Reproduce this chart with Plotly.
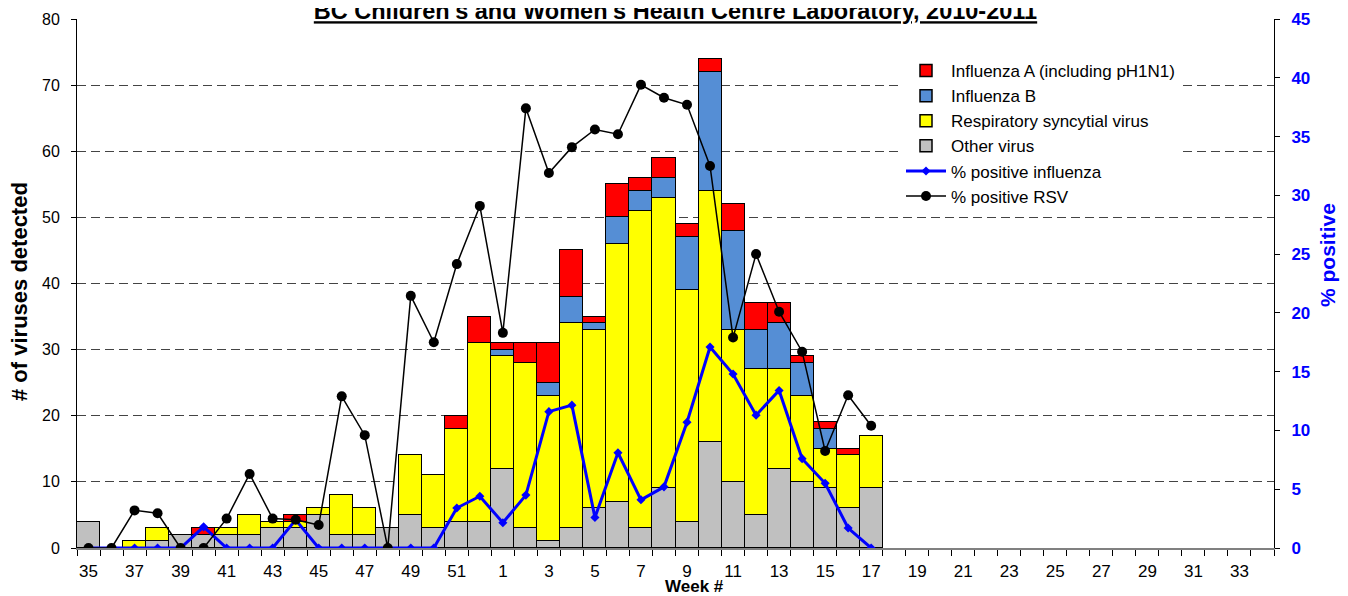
import plotly.graph_objects as go

weeks = [str(w) for w in list(range(35, 53)) + list(range(1, 35))]

other = [4, 0, 0, 1, 2, 2, 2, 2, 3, 3, 5, 2, 2, 3, 5, 3, 4, 4,
         12, 3, 1, 3, 6, 7, 3, 9, 4, 16, 10, 5, 12, 10, 9, 6, 9]
rsv = [0, 0, 1, 2, 0, 0, 1, 3, 1, 1, 1, 6, 4, 0, 9, 8, 14, 27,
       17, 25, 22, 31, 27, 39, 48, 44, 35, 38, 23, 22, 15, 13, 6, 8, 8]
flu_b = [0, 0, 0, 0, 0, 0, 0, 0, 0, 0, 0, 0, 0, 0, 0, 0, 0, 0,
         1, 0, 2, 4, 1, 4, 3, 3, 8, 18, 15, 6, 7, 5, 3, 0, 0]
flu_a = [0, 0, 0, 0, 0, 1, 0, 0, 0, 1, 0, 0, 0, 0, 0, 0, 2, 4,
         1, 3, 6, 7, 1, 5, 2, 3, 2, 2, 4, 4, 3, 1, 1, 1, 0]
pct_flu = [0, 0, 0, 0, 0, 1.8, 0, 0, 0, 2.4, 0, 0, 0, 0, 0, 0, 3.4, 4.4,
           2.15, 4.5, 11.6, 12.15, 2.6, 8.1, 4.1, 5.2, 10.7, 17.1, 14.8, 11.3, 13.4, 7.6, 5.5, 1.7, 0]
pct_rsv = [0, 0, 3.2, 2.95, 0, 0, 2.5, 6.3, 2.5, 2.4, 1.95, 12.9, 9.6, 0, 21.45, 17.5, 24.15, 29.1,
           18.3, 37.4, 31.9, 34.1, 35.6, 35.2, 39.4, 38.3, 37.7, 32.5, 17.9, 25.0, 20.1, 16.7, 8.25, 13.0, 10.4]

FONT = "Liberation Sans, Arial, sans-serif"
n_data = len(other)
xw = weeks[:n_data]

# page offset of the figure inside the html body (default 8px body margin)
OFF = 8
PL, PR, PT, PB = 77, 1274, 19, 548   # plot area in page pixels
W, H = 1348 - OFF, 596 - OFF


def px(page_x):
    return (page_x - PL) / (PR - PL)


def py(page_y):
    return (PB - page_y) / (PB - PT)


def nz(vals):
    return [v if v else None for v in vals]


fig = go.Figure()
bar_line = dict(color="black", width=1.5)
fig.add_trace(go.Bar(x=xw, y=nz(other), name="Other virus", legendrank=4,
                     marker=dict(color="#C0C0C0", line=bar_line)))
fig.add_trace(go.Bar(x=xw, y=nz(rsv), name="Respiratory syncytial virus", legendrank=3,
                     marker=dict(color="#FFFF00", line=bar_line)))
fig.add_trace(go.Bar(x=xw, y=nz(flu_b), name="Influenza B", legendrank=2,
                     marker=dict(color="#558ED5", line=bar_line)))
fig.add_trace(go.Bar(x=xw, y=nz(flu_a), name="Influenza A (including pH1N1)", legendrank=1,
                     marker=dict(color="#FF0000", line=bar_line)))
fig.add_trace(go.Scatter(x=xw, y=pct_flu, name="% positive influenza", yaxis="y2",
                         legendrank=5, mode="lines+markers",
                         line=dict(color="#0000FF", width=3),
                         marker=dict(symbol="diamond", size=7, color="#0000FF")))
fig.add_trace(go.Scatter(x=xw, y=pct_rsv, name="% positive RSV", yaxis="y2",
                         legendrank=6, mode="lines+markers",
                         line=dict(color="black", width=1.5),
                         marker=dict(symbol="circle", size=10, color="black")))

ticktext = [w if i % 2 == 0 else "" for i, w in enumerate(weeks)]

fig.update_layout(
    width=W, height=H,
    margin=dict(l=PL - OFF, r=1348 - PR, t=PT - OFF, b=596 - PB, autoexpand=False),
    paper_bgcolor="white", plot_bgcolor="white",
    barmode="stack", bargap=0,
    font=dict(family=FONT, size=14, color="black"),
    showlegend=True,
    legend=dict(x=px(901), y=py(53), xanchor="left", yanchor="top",
                bgcolor="white", font=dict(size=17, family=FONT),
                traceorder="normal", itemwidth=40, tracegroupgap=0),
    xaxis=dict(type="category", categoryorder="array", categoryarray=weeks,
               range=[-0.5, len(weeks) - 0.5],
               tickvals=weeks, ticktext=ticktext, tickson="boundaries",
               ticks="outside", ticklen=6, tickcolor="black", tickwidth=1,
               ticklabelstandoff=7,
               showline=True, linecolor="#808080", linewidth=2,
               showgrid=False, tickfont=dict(size=17, family=FONT, color="black"),
               tickangle=0, automargin=False),
    yaxis=dict(range=[0, 80], dtick=10, tick0=0, ticks="outside", ticklen=5,
               tickcolor="black", showline=True, linecolor="black", linewidth=1,
               ticklabelstandoff=8,
               showgrid=True, gridcolor="#444444", griddash="9px,5px", gridwidth=1,
               zeroline=False, automargin=False,
               tickfont=dict(size=16, family=FONT, color="black")),
    yaxis2=dict(range=[0, 45], dtick=5, tick0=0, overlaying="y", side="right",
                ticks="outside", ticklen=5, tickcolor="black", showline=True,
                linecolor="black", linewidth=1, showgrid=False, zeroline=False,
                ticklabelstandoff=8, automargin=False,
                tickfont=dict(size=17, family=FONT, color="#0000FF", weight="bold")),
    title=dict(text="BC Children's and Women's Health Centre Laboratory, 2010-2011",
               x=0.5, xanchor="center", xref="paper",
               y=1 - 3 / H, yanchor="middle", yref="container",
               font=dict(size=23.5, family=FONT, color="black", weight="bold",
                         lineposition="under")),
    annotations=[
        dict(text="<b># of viruses detected</b>", xref="paper", yref="paper",
             x=px(19), y=py(292), textangle=-90, showarrow=False,
             xanchor="center", yanchor="middle",
             font=dict(size=22, family=FONT, color="black")),
        dict(text="<b>% positive</b>", xref="paper", yref="paper",
             x=px(1327), y=py(255), textangle=-90, showarrow=False,
             xanchor="center", yanchor="middle",
             font=dict(size=21, family=FONT, color="#0000FF")),
        dict(text="<b>Week #</b>", xref="paper", yref="paper",
             x=px(694), y=py(586), showarrow=False,
             xanchor="center", yanchor="middle",
             font=dict(size=17, family=FONT, color="black")),
    ],
)

fig.write_html("out.html")
